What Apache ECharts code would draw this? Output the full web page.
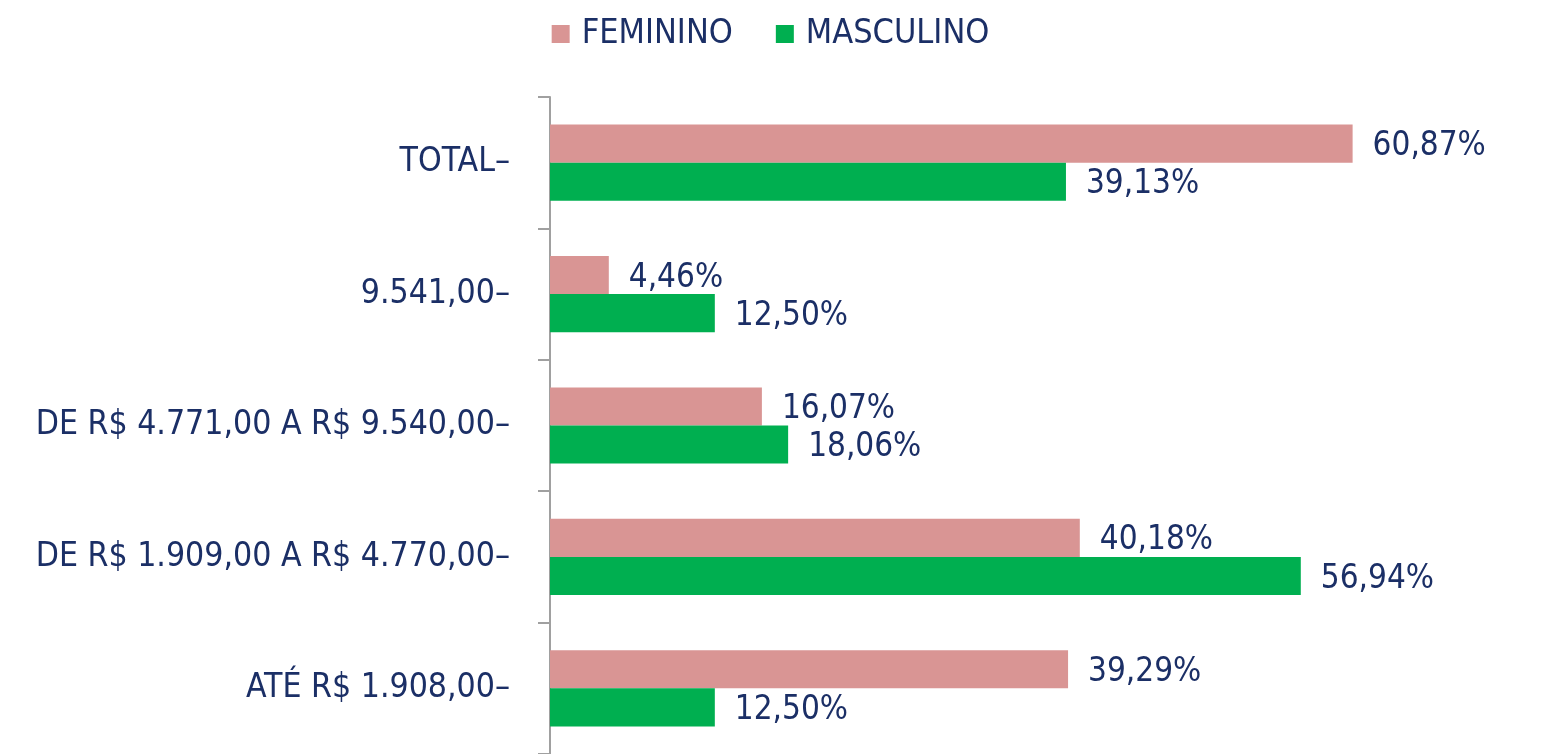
<!DOCTYPE html>
<html>
<head>
<meta charset="utf-8">
<script src="https://cdn.jsdelivr.net/npm/echarts@6/dist/echarts.min.js"></script>
<style>
html,body{margin:0;padding:0;background:#fff;}
#chart{width:1541px;height:754px;}
</style>
</head>
<body>
<div id="chart"></div>
<script>
var categories = ['ATÉ R$ 1.908,00', 'DE R$ 1.909,00 A R$ 4.770,00', 'DE R$ 4.771,00 A R$ 9.540,00', '9.541,00', 'TOTAL'];
var feminino = [39.29, 40.18, 16.07, 4.46, 60.87];
var masculino = [12.50, 56.94, 18.06, 12.50, 39.13];
var seriesNames = ['FEMININO', 'MASCULINO'];

var FONT = '"DejaVu Sans Condensed", "DejaVu Sans", sans-serif';
var TXT = '#1b2f66';

function fmt(p) { return p.value.toFixed(2).replace('.', ',') + '%'; }

var chart = echarts.init(document.getElementById('chart'));
chart.setOption({
  animation: false,
  legend: {
    data: seriesNames,
    top: 12,
    left: 'center',
    itemWidth: 18,
    itemHeight: 18,
    itemGap: 43,
    icon: 'rect',
    textStyle: { fontFamily: FONT, fontSize: 34, color: TXT, padding: [0, 0, 0, 7] }
  },
  grid: { left: 550, right: 68, top: 97, bottom: -3 },
  xAxis: {
    type: 'value', min: 0, max: 70,
    show: false
  },
  yAxis: {
    type: 'category',
    data: categories,
    axisLine: { show: true, lineStyle: { color: '#a0a0a0', width: 2 } },
    axisTick: { show: true, inside: false, length: 12, lineStyle: { color: '#a0a0a0', width: 2 } },
    axisLabel: {
      margin: 40,
      fontFamily: FONT, fontSize: 33.5, color: TXT,
      formatter: function (v) { return v + '–'; }
    }
  },
  series: [
    {
      name: seriesNames[0], type: 'bar', data: feminino,
      itemStyle: { color: '#d99594' },
      barGap: 0, barCategoryGap: '42%',
      label: { show: true, position: 'right', distance: 20, offset: [0, 3], fontFamily: FONT, fontSize: 33, color: TXT, formatter: fmt }
    },
    {
      name: seriesNames[1], type: 'bar', data: masculino,
      itemStyle: { color: '#00af50' },
      barGap: 0, barCategoryGap: '42%',
      label: { show: true, position: 'right', distance: 20, offset: [0, 3], fontFamily: FONT, fontSize: 33, color: TXT, formatter: fmt }
    }
  ]
});
</script>
</body>
</html>
